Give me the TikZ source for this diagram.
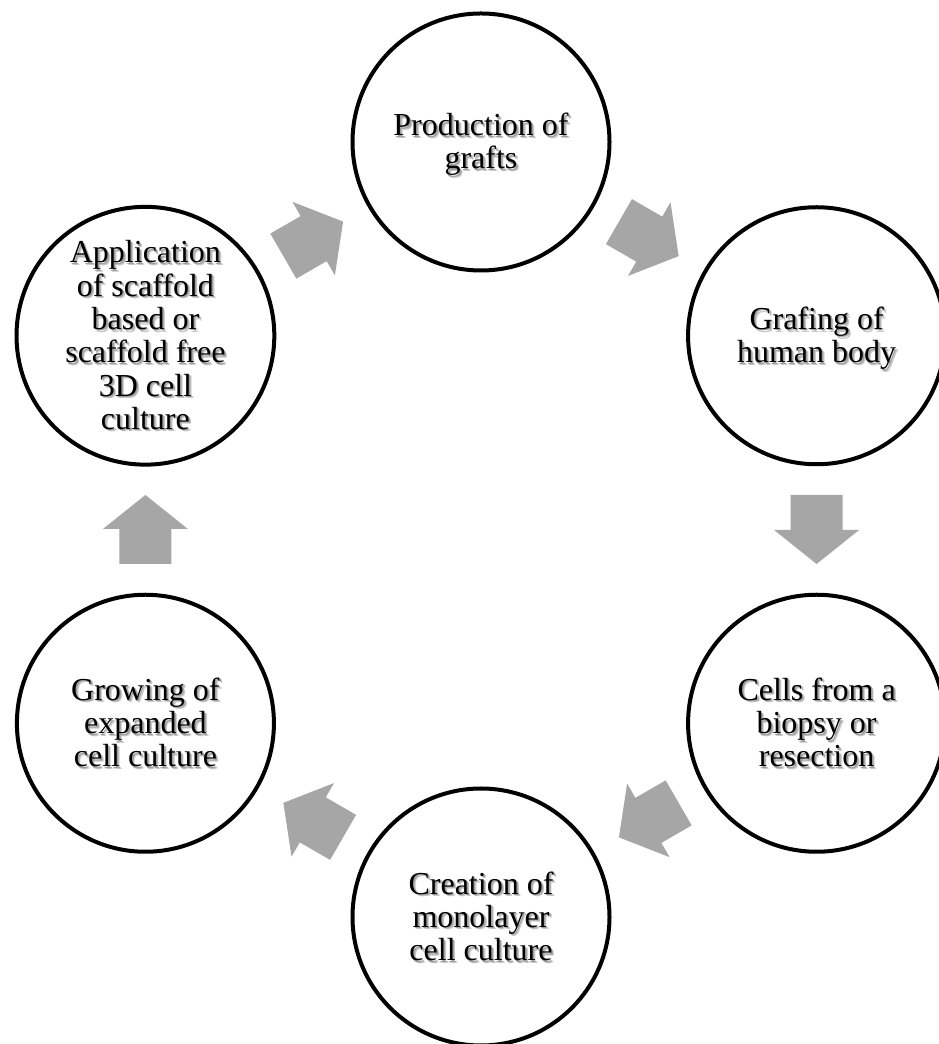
\documentclass[tikz,border=0pt]{standalone}
\usepackage{fontspec}
\setmainfont{Liberation Serif}
\usetikzlibrary{calc}
\definecolor{arrowgray}{HTML}{A6A6A6}
\definecolor{shadowlight}{HTML}{C8C8C8}
\definecolor{shadowgray}{HTML}{A0A0A0}
\newcommand\stackedtext[1]{\begin{tabular}{@{}c@{}}#1\end{tabular}}
\newcommand\shtxt[1]{\raisebox{-5pt}[\height][\depth]{%
  \rlap{\kern2.6pt\raisebox{-2.6pt}{\color{shadowlight}\stackedtext{#1}}}%
  \rlap{\kern1.5pt\raisebox{-1.5pt}{\color{shadowgray}\stackedtext{#1}}}%
  \stackedtext{#1}}}
\newcommand\cycarrow[2]{%
  \pgfmathanglebetweenpoints{\pgfpointanchor{#1}{center}}{\pgfpointanchor{#2}{center}}%
  \let\arrang\pgfmathresult
  \fill[arrowfill, shift={($(#1)!0.5!(#2)$)}, rotate=\arrang]
    (-34.5,26) -- (0.5,26) -- (0.5,42.5) -- (34.5,0) -- (0.5,-42.5) -- (0.5,-26) -- (-34.5,-26) -- cycle;}
\begin{document}
\begin{tikzpicture}[x=1pt,y=1pt,
  stage/.style={circle, draw=black, line width=4pt, fill=white, minimum size=257pt,
    inner sep=0pt, font=\fontsize{32}{33.3}\selectfont},
  arrowfill/.style={fill=arrowgray}]
\useasboundingbox (0,0) rectangle (939,1044);
\clip (0,0) rectangle (939,1044);
\coordinate (C) at (481,514.5);
\node[stage] (prod)  at ($(C)+(90:387.5pt)$)   {\shtxt{Production of\\grafts}};
\node[stage] (graft) at ($(C)+(30:387.5pt)$)   {\shtxt{Grafing of\\human body}};
\node[stage] (cells) at ($(C)+(-30:387.5pt)$)  {\shtxt{Cells from a\\biopsy or\\resection}};
\node[stage] (mono)  at ($(C)+(-90:387.5pt)$)  {\shtxt{Creation of\\monolayer\\cell culture}};
\node[stage] (grow)  at ($(C)+(-150:387.5pt)$) {\shtxt{Growing of\\expanded\\cell culture}};
\node[stage] (appl)  at ($(C)+(150:387.5pt)$)  {\shtxt{Application\\of scaffold\\based or\\scaffold free\\3D cell\\culture}};
\cycarrow{prod}{graft}
\cycarrow{graft}{cells}
\cycarrow{cells}{mono}
\cycarrow{mono}{grow}
\cycarrow{grow}{appl}
\cycarrow{appl}{prod}
\end{tikzpicture}
\end{document}
